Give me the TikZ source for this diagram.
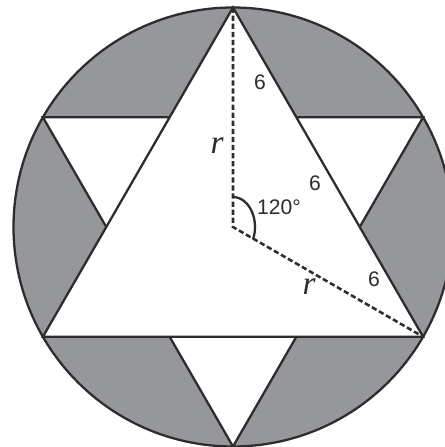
\documentclass[tikz,border=0pt]{standalone}
\usepackage{fontspec}
\newfontfamily\labelfont{Liberation Sans}
\newfontfamily\varfont{Liberation Serif}
\usepackage{xcolor}
\usepackage{tikz}
\definecolor{diskgray}{RGB}{150,151,154}
\definecolor{edge}{RGB}{45,45,45}

\begin{document}
\begin{tikzpicture}[
    outline/.style={draw=edge, line width=1.3pt},
    radiusline/.style={draw=edge, line width=1.45pt, dash pattern=on 3pt off 1.6pt},
    seglabel/.style={font=\labelfont\fontsize{12}{14}\selectfont, text=edge, inner sep=0pt},
    varlabel/.style={font=\varfont\itshape\fontsize{19}{22}\selectfont, text=edge, inner sep=0pt},
]
\def\R{4.39}
\useasboundingbox (-4.66,-4.40) rectangle (4.24,4.54);

% === VERTICES ===
\coordinate (O) at (0,0);
\foreach \a/\n in {90/T,30/UR,-30/LR,-90/B,-150/LL,150/UL}
    \coordinate (\n) at (\a:\R);
\foreach \a in {0,60,...,300}
    \coordinate (i\a) at (\a:{\R/1.7320508});

% === DISC ===
\fill[diskgray] (O) circle (\R);
\fill[white] (T) -- (LL) -- (LR) -- cycle;
\fill[white] (UL) -- (UR) -- (B) -- cycle;
\draw[outline] (O) circle (\R);

% === STAR ===
\draw[outline] (T) -- (LL) -- (LR) -- cycle;
\draw[outline] (i120) -- (UL) -- (i180);
\draw[outline] (i0) -- (UR) -- (i60);
\draw[outline] (i240) -- (B) -- (i300);

% === RADII AND ANGLE ===
\draw[radiusline] (T) -- (O) -- (LR);
\draw[outline] (0,0.6) arc[start angle=90, end angle=-23.7, x radius=0.44, y radius=0.6];

% === LABELS ===
\node[seglabel] (s1) at (0.54,2.90) {6};
\node[seglabel] (s2) at (1.64,0.88) {6};
\node[seglabel] (s3) at (2.82,-1.04) {6};
\node[varlabel] (r1) at (-0.32,1.62) {r};
\node[varlabel] (r2) at (1.52,-1.20) {r};
\node[seglabel] (ang) at (0.92,0.40) {120°};

\end{tikzpicture}
\end{document}
